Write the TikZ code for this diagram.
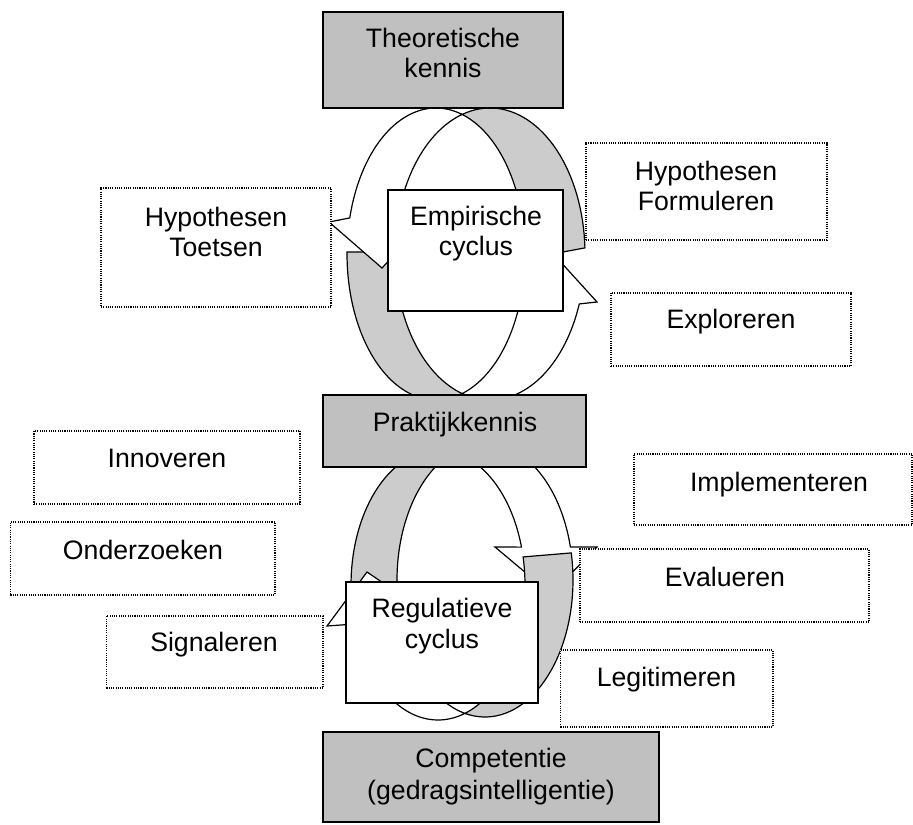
\documentclass[tikz,border=0pt]{standalone}
\usepackage{fontspec}
\setmainfont{Liberation Sans}
\definecolor{boxgrey}{RGB}{192,192,192}
\definecolor{bandgrey}{RGB}{204,204,204}
\newcommand\lblfont{\fontsize{20pt}{23pt}\selectfont}
\begin{document}
\begin{tikzpicture}[x=0.75pt,y=-0.75pt,
  ring/.style={draw=black, line width=0.9pt, line join=miter, miter limit=10},
  back/.style={ring, fill=bandgrey},
  front/.style={ring, fill=white},
  greybox/.style={draw=black, line width=1.5pt, fill=boxgrey, inner sep=0pt, outer sep=0pt},
  plainbox/.style={draw=black, line width=1.5pt, fill=white, inner sep=0pt, outer sep=0pt},
  dotbox/.style={draw=black, line width=0.8pt, dash pattern=on 0.8pt off 0.9pt, fill=white, inner sep=0pt, outer sep=0pt},
  lbl/.style={font=\lblfont, anchor=base, inner sep=0pt, outer sep=0pt}]
\useasboundingbox (0,0) rectangle (913,824);

% ---------------- upper ring (Empirische cyclus) ----------------
% back part of arrow A (upper right)
\filldraw[back] plot[domain=-107.1:-2.4, samples=40, variable=\t] ({490+95*cos(\t)},{254+146*sin(\t)})
  -- plot[domain=2:-73, samples=40, variable=\t] ({436+89*cos(\t)},{254+146*sin(\t)}) -- cycle;
% back part of arrow B (lower left)
\filldraw[back] plot[domain=180.8:73, samples=40, variable=\t] ({436+89*cos(\t)},{254+146*sin(\t)})
  -- plot[domain=107.1:180.8, samples=40, variable=\t] ({490+95*cos(\t)},{254+146*sin(\t)}) -- cycle;
% front part of arrow A (upper left, head pointing down)
\coordinate (aBarbO) at (329,222);
\coordinate (aTip) at (382,268);
\coordinate (aBarbI) at (432,214);
\filldraw[front] plot[domain=-73:-165.7, samples=40, variable=\t] ({436+89*cos(\t)},{254+146*sin(\t)})
  -- (aBarbO) -- (aTip) -- (aBarbI)
  -- plot[domain=-163.3:-107.1, samples=40, variable=\t] ({490+95*cos(\t)},{254+146*sin(\t)}) -- cycle;
% front part of arrow B (lower right, head pointing up)
\coordinate (bBarbO) at (597,302);
\coordinate (bTip) at (548,248);
\coordinate (bBarbI) at (502,302);
\filldraw[front] plot[domain=107.1:20, samples=40, variable=\t] ({490+95*cos(\t)},{254+146*sin(\t)})
  -- (bBarbO) -- (bTip) -- (bBarbI)
  -- plot[domain=18.4:73, samples=40, variable=\t] ({436+89*cos(\t)},{254+146*sin(\t)}) -- cycle;

% ---------------- lower ring (Regulatieve cyclus) ----------------
% back part of arrow D (upper left)
\filldraw[back] plot[domain=-79.7:-190, samples=40, variable=\t] ({438+87*cos(\t)},{585+135*sin(\t)})
  -- plot[domain=-190:-110.97, samples=40, variable=\t] ({485+88*cos(\t)},{580+137*sin(\t)}) -- cycle;
% front part of arrow C (lower left, head pointing up)
\coordinate (cBarbO) at (327,626);
\coordinate (cTip) at (367,572);
\coordinate (cBarbI) at (414,604);
\filldraw[front] plot[domain=71.9:163.2, samples=40, variable=\t] ({438+87*cos(\t)},{585+135*sin(\t)})
  -- (cBarbO) -- (cTip) -- (cBarbI)
  -- plot[domain=167.4:103.1, samples=40, variable=\t] ({485+88*cos(\t)},{580+137*sin(\t)}) -- cycle;
% front part of arrow D (upper right, head pointing down)
\coordinate (dBarbO) at (597,547);
\coordinate (dTip) at (551,594);
\coordinate (dBarbI) at (495,547);
\filldraw[front] plot[domain=-110.97:-13.9, samples=40, variable=\t] ({485+88*cos(\t)},{580+137*sin(\t)})
  -- (dBarbO) -- (dTip) -- (dBarbI)
  -- plot[domain=-16.3:-79.7, samples=40, variable=\t] ({438+87*cos(\t)},{585+135*sin(\t)}) -- cycle;
% back part of arrow C (lower right)
\filldraw[back] plot[domain=-11.4:103.1, samples=40, variable=\t] ({485+88*cos(\t)},{580+137*sin(\t)})
  -- plot[domain=71.9:-12, samples=40, variable=\t] ({438+87*cos(\t)},{585+135*sin(\t)}) -- cycle;

% ---------------- solid boxes ----------------
\node[greybox, minimum width=180pt, minimum height=72pt] (theo) at (443,60) {};
\node[plainbox, minimum width=131.25pt, minimum height=90.75pt] (emp) at (475.5,250.5) {};
\node[greybox, minimum width=197.25pt, minimum height=54pt] (prak) at (454.5,431) {};
\node[plainbox, minimum width=144pt, minimum height=90.75pt] (reg) at (442,642.5) {};
\node[greybox, minimum width=252pt, minimum height=67.5pt] (comp) at (491,777) {};

% ---------------- dotted boxes ----------------
\node[dotbox, minimum width=172.5pt, minimum height=89.25pt] (hypt) at (216,247.5) {};
\node[dotbox, minimum width=180.75pt, minimum height=72.75pt] (hypf) at (706.5,191.5) {};
\node[dotbox, minimum width=180pt, minimum height=54.75pt] (expl) at (731,329.5) {};
\node[dotbox, minimum width=199.5pt, minimum height=54.75pt] (inno) at (167,467.5) {};
\node[dotbox, minimum width=198.4pt, minimum height=54.75pt] (onder) at (142.75,558.5) {};
\node[dotbox, minimum width=162.4pt, minimum height=54pt] (sign) at (214.75,652) {};
\node[dotbox, minimum width=208.5pt, minimum height=53.25pt] (impl) at (773,489.5) {};
\node[dotbox, minimum width=216.75pt, minimum height=54.75pt] (eval) at (724.5,585.5) {};
\node[dotbox, minimum width=159.4pt, minimum height=57.75pt] (legit) at (666.75,688.5) {};

% ---------------- labels ----------------
\node[lbl] (theo1) at (443,48) {Theoretische};
\node[lbl] (theo2) at (443,78) {kennis};
\node[lbl] (emp1) at (476,225) {Empirische};
\node[lbl] (emp2) at (476,255) {cyclus};
\node[lbl] (prak1) at (455,431) {Praktijkkennis};
\node[lbl] (reg1) at (442,617) {Regulatieve};
\node[lbl] (reg2) at (442,648) {cyclus};
\node[lbl] (comp1) at (491,767) {Competentie};
\node[lbl] (comp2) at (491,799) {(gedragsintelligentie)};
\node[lbl] (hypt1) at (216,226) {Hypothesen};
\node[lbl] (hypt2) at (216,256) {Toetsen};
\node[lbl] (hypf1) at (706,180) {Hypothesen};
\node[lbl] (hypf2) at (706,210) {Formuleren};
\node[lbl] (expl1) at (731,328) {Exploreren};
\node[lbl] (inno1) at (167,467) {Innoveren};
\node[lbl] (onder1) at (143,559) {Onderzoeken};
\node[lbl] (sign1) at (214,651) {Signaleren};
\node[lbl] (impl1) at (779,491) {Implementeren};
\node[lbl] (eval1) at (725,586) {Evalueren};
\node[lbl] (legit1) at (666.5,686) {Legitimeren};
\end{tikzpicture}
\end{document}
